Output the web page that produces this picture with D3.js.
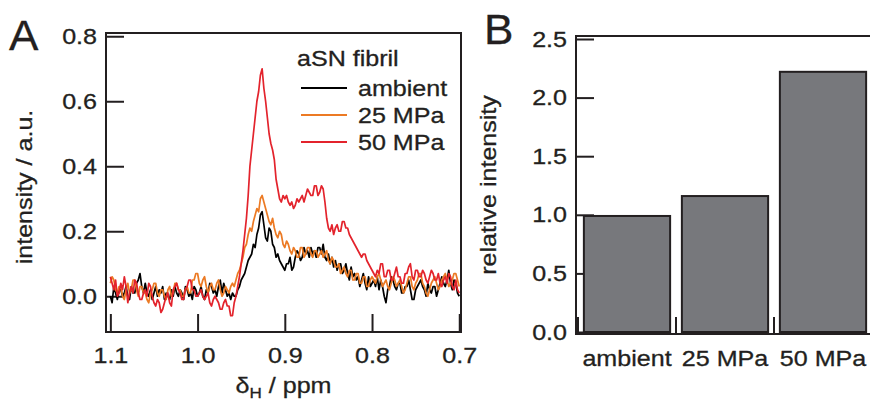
<!DOCTYPE html>
<html>
<head>
<meta charset="utf-8">
<script src="https://cdn.jsdelivr.net/npm/d3@7"></script>
<style>
  html, body { margin: 0; padding: 0; background: #fff; }
  svg { display: block; }
</style>
</head>
<body>
<script>
// chemical shift grid, 1.1 -> 0.7 ppm every 0.002
const ppm = d3.range(0, 201).map(i => +(1.1 - i * 0.002).toFixed(3));

const ambient = [
  0.00, -0.02, 0.03, 0.01, -0.01, 0.02, 0.02, 0.00, 0.01, 0.03,
  0.00, -0.01, 0.03, 0.01, 0.01, 0.04, 0.05, 0.07, 0.03, 0.01,
  0.04, 0.01, 0.00, 0.02, -0.01, 0.01, 0.03, 0.00, 0.02, 0.01,
  0.03, -0.01, 0.01, 0.00, -0.01, 0.02, 0.00, 0.03, 0.01, 0.00,
  0.02, 0.01, -0.01, 0.03, 0.02, 0.00, 0.01, -0.01, 0.03, 0.02,
  0.00, 0.01, 0.03, 0.00, -0.01, 0.02, 0.01, 0.04, 0.03, 0.01,
  0.02, 0.00, 0.03, 0.05, 0.01, 0.04, 0.02, 0.00, 0.01, -0.01,
  0.01, 0.00, 0.00, 0.02, 0.03, 0.05, 0.06, 0.07, 0.09, 0.11,
  0.12, 0.13, 0.16, 0.15, 0.19, 0.21, 0.25, 0.26, 0.22, 0.18,
  0.17, 0.21, 0.20, 0.16, 0.15, 0.12, 0.13, 0.11, 0.10, 0.09,
  0.08, 0.10, 0.10, 0.12, 0.08, 0.09, 0.12, 0.14, 0.13, 0.11,
  0.12, 0.15, 0.13, 0.14, 0.12, 0.15, 0.13, 0.14, 0.12, 0.15,
  0.15, 0.13, 0.16, 0.12, 0.11, 0.13, 0.10, 0.12, 0.09, 0.11,
  0.08, 0.10, 0.10, 0.07, 0.08, 0.10, 0.07, 0.05, 0.09, 0.06,
  0.07, 0.05, 0.06, 0.03, 0.05, 0.07, 0.04, 0.02, 0.06, 0.03,
  0.04, 0.05, 0.03, 0.06, 0.02, 0.05, 0.03, 0.00, -0.02, 0.02,
  0.03, 0.06, 0.05, 0.03, 0.02, 0.04, 0.04, 0.01, 0.01, 0.03,
  0.03, 0.05, 0.02, -0.01, -0.01, 0.02, 0.03, 0.04, 0.05, 0.03,
  0.02, 0.00, 0.04, 0.02, 0.01, 0.03, 0.03, 0.00, 0.02, 0.04,
  0.06, 0.04, 0.03, 0.05, 0.08, 0.04, 0.02, 0.05, 0.04, 0.01,
  0.00
];
const mpa25 = [
  0.04, 0.06, 0.05, 0.02, 0.01, 0.03, 0.03, 0.00, -0.01, 0.02,
  0.04, 0.01, 0.02, 0.05, 0.05, 0.02, 0.00, 0.03, 0.03, 0.01,
  0.01, -0.01, -0.02, 0.01, 0.02, 0.04, 0.04, 0.01, 0.00, 0.02,
  0.02, 0.00, -0.01, 0.02, 0.03, 0.00, 0.01, 0.04, 0.04, 0.02,
  0.02, 0.00, 0.00, 0.02, 0.03, 0.01, 0.01, 0.05, 0.05, 0.07,
  0.07, 0.04, 0.03, 0.05, 0.06, 0.03, 0.01, 0.03, 0.04, 0.02,
  0.02, 0.04, 0.05, 0.02, 0.00, 0.01, 0.03, 0.02, 0.01, 0.03,
  0.04, 0.03, 0.05, 0.07, 0.08, 0.10, 0.12, 0.15, 0.16, 0.19,
  0.21, 0.20, 0.23, 0.25, 0.27, 0.26, 0.30, 0.31, 0.29, 0.27,
  0.25, 0.23, 0.22, 0.24, 0.21, 0.19, 0.18, 0.20, 0.19, 0.16,
  0.15, 0.17, 0.16, 0.14, 0.13, 0.15, 0.14, 0.12, 0.12, 0.15,
  0.15, 0.12, 0.13, 0.15, 0.15, 0.13, 0.12, 0.14, 0.14, 0.12,
  0.13, 0.14, 0.12, 0.13, 0.14, 0.11, 0.10, 0.12, 0.11, 0.09,
  0.09, 0.10, 0.07, 0.08, 0.09, 0.07, 0.06, 0.08, 0.08, 0.05,
  0.05, 0.07, 0.07, 0.04, 0.04, 0.06, 0.06, 0.03, 0.03, 0.05,
  0.06, 0.05, 0.04, 0.06, 0.07, 0.05, 0.03, 0.04, 0.05, 0.03,
  0.02, 0.04, 0.06, 0.05, 0.03, 0.04, 0.05, 0.03, 0.01, 0.02,
  0.04, 0.06, 0.06, 0.03, 0.02, 0.04, 0.05, 0.07, 0.07, 0.04,
  0.03, 0.01, 0.00, 0.02, 0.04, 0.05, 0.06, 0.04, 0.02, 0.03,
  0.05, 0.06, 0.07, 0.05, 0.03, 0.04, 0.05, 0.07, 0.07, 0.05,
  0.03
];
const mpa50 = [
  0.06, 0.04, 0.02, 0.05, 0.00, 0.01, 0.04, 0.02, 0.06, 0.03,
  -0.02, 0.01, 0.03, 0.01, 0.05, 0.04, 0.01, -0.01, -0.01, 0.01,
  0.02, 0.00, 0.04, 0.03, 0.00, -0.02, -0.03, -0.01, -0.02, -0.05,
  -0.04, -0.02, 0.00, 0.01, -0.02, -0.03, 0.02, 0.03, 0.04, 0.02,
  0.01, -0.01, -0.01, 0.02, 0.03, 0.05, 0.05, 0.02, 0.02, 0.00,
  0.00, 0.01, 0.02, 0.00, -0.01, 0.00, 0.01, -0.02, -0.03, -0.01,
  0.00, -0.01, -0.02, -0.04, -0.04, -0.02, -0.01, -0.03, -0.03, -0.06,
  -0.06, -0.02, 0.00, 0.03, 0.06, 0.10, 0.14, 0.19, 0.24, 0.31,
  0.40, 0.45, 0.50, 0.55, 0.60, 0.63, 0.68, 0.70, 0.64, 0.60,
  0.55, 0.50, 0.47, 0.45, 0.42, 0.36, 0.33, 0.30, 0.29, 0.31,
  0.30, 0.31, 0.29, 0.28, 0.29, 0.27, 0.28, 0.30, 0.29, 0.30,
  0.31, 0.29, 0.31, 0.33, 0.32, 0.31, 0.31, 0.34, 0.34, 0.31,
  0.32, 0.34, 0.33, 0.29, 0.24, 0.21, 0.20, 0.22, 0.19, 0.21,
  0.22, 0.20, 0.20, 0.23, 0.23, 0.21, 0.21, 0.19, 0.18, 0.17,
  0.16, 0.15, 0.14, 0.13, 0.12, 0.13, 0.13, 0.11, 0.10, 0.09,
  0.08, 0.07, 0.06, 0.08, 0.07, 0.10, 0.10, 0.06, 0.06, 0.08,
  0.08, 0.05, 0.05, 0.07, 0.09, 0.06, 0.06, 0.04, 0.04, 0.07,
  0.07, 0.09, 0.10, 0.06, 0.05, 0.08, 0.08, 0.06, 0.06, 0.08,
  0.07, 0.05, 0.04, 0.06, 0.08, 0.07, 0.05, 0.05, 0.07, 0.04,
  0.03, 0.05, 0.06, 0.04, 0.07, 0.06, 0.03, 0.02, 0.05, 0.02,
  0.01
];

const seriesNames = ['ambient', '25 MPa', '50 MPa'];
const seriesColors = ['#000000', '#ec7a24', '#e3232c'];

const spectraTicksX = [1.1, 1.0, 0.9, 0.8, 0.7];
const spectraTicksY = [0.0, 0.2, 0.4, 0.6, 0.8];

const barCategories = ['ambient', '25 MPa', '50 MPa'];
const barValues = [0.99, 1.16, 2.22];
const barTicksY = [0.0, 0.5, 1.0, 1.5, 2.0, 2.5];

const width = 870;
const height = 403;
const ink = '#231f20';
const stretch = 1.14; // glyphs in the figure are a bit wide

const svg = d3.select('body')
  .append('svg')
  .attr('width', width)
  .attr('height', height)
  .style('font-family', '"Liberation Sans", Arial, sans-serif')
  .style('fill', ink);

function label(g, x, y, text, { size = 22, anchor = 'start', rotate = 0, sx = stretch } = {}) {
  return g.append('text')
    .attr('transform', `translate(${x},${y})` + (rotate ? ` rotate(${rotate})` : '') + ` scale(${sx},1)`)
    .attr('text-anchor', anchor)
    .attr('font-size', size)
    .attr('fill', ink)
    .attr('stroke', ink)
    .attr('stroke-width', 0.3)
    .text(text);
}

function styleAxis(g) {
  g.select('.domain').remove();
  g.selectAll('.tick line').attr('stroke', ink).attr('stroke-width', 2);
  g.selectAll('.tick text')
    .attr('font-size', 22)
    .attr('fill', ink)
    .attr('stroke', ink)
    .attr('stroke-width', 0.3)
    .attr('font-family', '"Liberation Sans", Arial, sans-serif')
    .each(function() {
      const t = d3.select(this);
      t.attr('transform', `scale(${stretch},1)`).attr('x', (+t.attr('x') || 0) / stretch);
    });
}

// ---------- panel A : spectra ----------
const A = { left: 106, right: 461, top: 33, bottom: 332 };

const x = d3.scaleLinear().domain([1.105, 0.698]).range([A.left, A.right]);
const y = d3.scaleLinear().domain([-0.11, 0.81]).range([A.bottom, A.top]);

const gA = svg.append('g');

gA.append('g')
  .attr('transform', `translate(${A.left},0)`)
  .call(d3.axisLeft(y).tickValues(spectraTicksY).tickFormat(d3.format('.1f'))
    .tickSizeInner(-18).tickSizeOuter(0).tickPadding(9))
  .call(styleAxis);

gA.append('g')
  .attr('transform', `translate(0,${A.bottom})`)
  .call(d3.axisBottom(x).tickValues(spectraTicksX).tickFormat(d3.format('.1f'))
    .tickSizeInner(-18).tickSizeOuter(0).tickPadding(15))
  .call(styleAxis);

const line = d3.line()
  .x((d, i) => x(ppm[i]))
  .y(d => y(d));

[ambient, mpa25, mpa50].forEach((s, k) => {
  gA.append('path')
    .datum(s)
    .attr('fill', 'none')
    .attr('stroke', seriesColors[k])
    .attr('stroke-width', 1.7)
    .attr('stroke-linejoin', 'round')
    .attr('d', line);
});

gA.append('rect')
  .attr('x', A.left).attr('y', A.top)
  .attr('width', A.right - A.left).attr('height', A.bottom - A.top)
  .attr('fill', 'none').attr('stroke', ink).attr('stroke-width', 2);

// legend
label(gA, 297, 66, 'aSN fibril');
seriesNames.forEach((name, k) => {
  const ly = 88 + k * 27;
  gA.append('line')
    .attr('x1', 301).attr('x2', 347)
    .attr('y1', ly).attr('y2', ly)
    .attr('stroke', seriesColors[k]).attr('stroke-width', 2);
  label(gA, 358, ly + 8, name);
});

// axis titles
const xt = label(gA, (A.left + A.right) / 2, 393, null, { anchor: 'middle' });
xt.append('tspan').text('\u03b4');
xt.append('tspan').attr('font-size', 15).attr('dy', 5).text('H');
xt.append('tspan').attr('dy', -5).text(' / ppm');

label(gA, 32, 187, 'intensity / a.u.', { anchor: 'middle', rotate: -90 });
label(gA, 9, 50, 'A', { size: 42, sx: 1.05 });

// ---------- panel B : bars ----------
const B = { left: 576, right: 876, top: 36, bottom: 334 };

const xb = d3.scaleBand().domain(barCategories).range([578, 872])
  .paddingInner(0.12).paddingOuter(0.06);
const yb = d3.scaleLinear().domain([0, 2.5]).range([332, 39]);

const gB = svg.append('g');

gB.append('g')
  .attr('transform', `translate(${B.left},0)`)
  .call(d3.axisLeft(yb).tickValues(barTicksY).tickFormat(d3.format('.1f'))
    .tickSizeInner(-18).tickSizeOuter(0).tickPadding(9))
  .call(styleAxis);

gB.selectAll('.bar')
  .data(barValues)
  .join('rect')
    .attr('class', 'bar')
    .attr('x', (d, i) => xb(barCategories[i]))
    .attr('width', xb.bandwidth())
    .attr('y', d => yb(d))
    .attr('height', d => yb(0) - yb(d))
    .attr('fill', '#77787c')
    .attr('stroke', ink)
    .attr('stroke-width', 2);

// small separators at the band edges
const gap = (xb.step() - xb.bandwidth()) / 2;
gB.selectAll('.sep')
  .data(barCategories)
  .join('line')
    .attr('class', 'sep')
    .attr('x1', d => xb(d) - gap).attr('x2', d => xb(d) - gap)
    .attr('y1', B.bottom).attr('y2', B.bottom - 17)
    .attr('stroke', ink).attr('stroke-width', 2);

gB.append('path')
  .attr('d', `M${B.right},${B.top}H${B.left}V${B.bottom}H${B.right}`)
  .attr('fill', 'none').attr('stroke', ink).attr('stroke-width', 2);

barCategories.forEach(c => {
  label(gB, xb(c) + xb.bandwidth() / 2, 366, c, { anchor: 'middle' });
});

label(gB, 496, 185, 'relative intensity', { anchor: 'middle', rotate: -90 });
label(gB, 484, 44, 'B', { size: 42, sx: 1.05 });
</script>
</body>
</html>
